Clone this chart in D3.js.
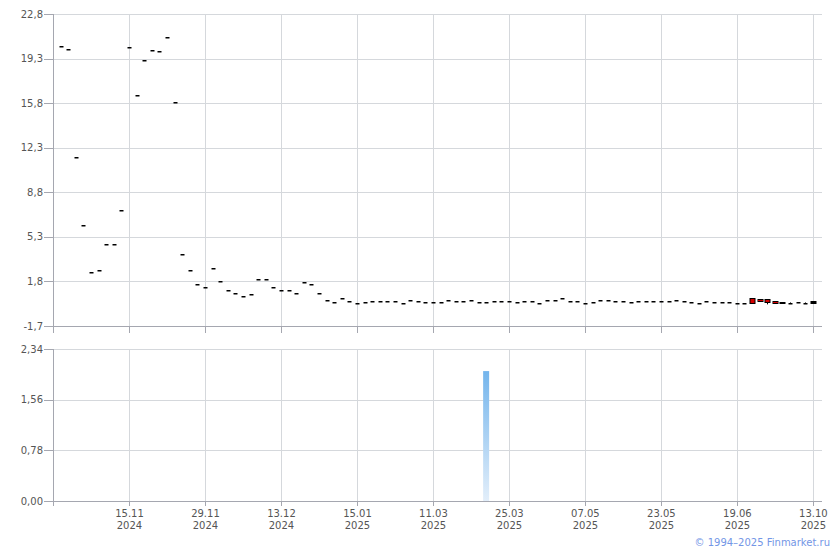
<!DOCTYPE html>
<html>
<head>
<meta charset="utf-8">
<script src="https://d3js.org/d3.v7.min.js"></script>
<style>
  body { margin: 0; background: #fff; }
  text { font-family: "DejaVu Sans", Verdana, sans-serif; }
</style>
</head>
<body>
<div id="chart"></div>
<script>
// closing price per trading day (index 0..99)
var closeVals = [
  20.2, 20.0, 11.5, 6.15, 2.45, 2.65, 4.65, 4.65, 7.3, 20.15,
  16.35, 19.1, 19.9, 19.8, 20.9, 15.8, 3.9, 2.65, 1.55, 1.25,
  2.75, 1.75, 1.05, 0.8, 0.55, 0.7, 1.9, 1.9, 1.25, 1.05,
  1.05, 0.8, 1.65, 1.5, 0.8, 0.3, 0.1, 0.4, 0.15, 0.0,
  0.1, 0.15, 0.15, 0.15, 0.15, 0.0, 0.25, 0.15, 0.1, 0.1,
  0.1, 0.25, 0.15, 0.15, 0.25, 0.1, 0.1, 0.15, 0.15, 0.15,
  0.1, 0.15, 0.15, 0.0, 0.3, 0.3, 0.4, 0.15, 0.15, 0.0,
  0.1, 0.25, 0.3, 0.15, 0.15, 0.1, 0.15, 0.15, 0.15, 0.15,
  0.15, 0.25, 0.15, 0.1, 0.0, 0.15, 0.1, 0.1, 0.1, 0.0,
  0.0, -0.03, 0.16, 0.09, 0.09, 0.05, 0.05, 0.1, 0.05, 0.17
];
// the few days where open differs from close
var bodyIdx  = [91, 92, 93, 94, 95, 99];
var bodyOpen = [0.40, 0.32, 0.32, 0.22, 0.12, 0.05];
// wicks
var wickIdx  = [93, 96, 97, 98];
var wickHigh = [0.32, 0.15, 0.18, 0.15];
var wickLow  = [0.0, 0.05, 0.1, 0.05];

// volume per day (only one non-zero)
var volIdx  = [56];
var volVals = [2.0];

var tickIdx    = [9, 19, 29, 39, 49, 59, 69, 79, 89, 99];
var tickDay    = ["15.11", "29.11", "13.12", "15.01", "11.03", "25.03", "07.05", "23.05", "19.06", "13.10"];
var tickYear   = ["2024", "2024", "2024", "2025", "2025", "2025", "2025", "2025", "2025", "2025"];
var priceTicks = [-1.7, 1.8, 5.3, 8.8, 12.3, 15.8, 19.3, 22.8];
var volTicks   = [0, 0.78, 1.56, 2.34];

var W = 840, H = 550;
var left = 53, right = 822;
var gridCol = "#d5d8dc", axisCol = "#a5a7b0", txtCol = "#555";

var loc = d3.formatLocale({decimal: ",", thousands: " ", grouping: [3], currency: ["", ""], minus: "-"});
var f1 = loc.format(".1f"), f2 = loc.format(".2f");

var svg = d3.select("#chart").append("svg")
    .attr("width", W).attr("height", H);

var x = d3.scaleLinear().domain([-1, 100.2]).range([left, right]);
var yP = d3.scaleLinear().domain([-1.7, 22.8]).range([326, 14]);
var yV = d3.scaleLinear().domain([0, 2.34]).range([501, 349]);

function pane(y, ticks, fmt, top, bottom, tickLen) {
  var g = svg.append("g");
  // horizontal grid
  g.selectAll(".hg").data(ticks).enter().append("line")
    .attr("x1", left).attr("x2", right)
    .attr("y1", function(d) { return Math.round(y(d)) + 0.5; })
    .attr("y2", function(d) { return Math.round(y(d)) + 0.5; })
    .attr("stroke", function(d, i) { return i == 0 ? axisCol : gridCol; });
  // vertical grid
  g.selectAll(".vg").data(tickIdx).enter().append("line")
    .attr("x1", function(d) { return Math.round(x(d)) + 0.5; })
    .attr("x2", function(d) { return Math.round(x(d)) + 0.5; })
    .attr("y1", top).attr("y2", bottom)
    .attr("stroke", gridCol);
  // x tick marks
  g.selectAll(".xt").data(tickIdx).enter().append("line")
    .attr("x1", function(d) { return Math.round(x(d)) + 0.5; })
    .attr("x2", function(d) { return Math.round(x(d)) + 0.5; })
    .attr("y1", bottom).attr("y2", bottom + tickLen)
    .attr("stroke", axisCol);
  // y ticks + labels
  g.selectAll(".yt").data(ticks).enter().append("line")
    .attr("x1", left - 9).attr("x2", left)
    .attr("y1", function(d) { return Math.round(y(d)) + 0.5; })
    .attr("y2", function(d) { return Math.round(y(d)) + 0.5; })
    .attr("stroke", axisCol);
  g.selectAll(".yl").data(ticks).enter().append("text")
    .attr("x", left - 10)
    .attr("y", function(d) { return y(d) + 3.5; })
    .attr("text-anchor", "end")
    .style("font-size", "10px")
    .attr("fill", txtCol)
    .text(fmt);
  // left axis
  g.append("line")
    .attr("x1", left + 0.5).attr("x2", left + 0.5)
    .attr("y1", top).attr("y2", bottom + tickLen)
    .attr("stroke", axisCol);
}

pane(yP, priceTicks, f1, 14, 326, 7);
pane(yV, volTicks, f2, 349, 501, 5);

// x labels under the volume pane
var xl = svg.append("g");
xl.selectAll(".d").data(tickIdx).enter().append("text")
  .attr("x", function(d) { return x(d) + 0.5; })
  .attr("y", 517)
  .attr("text-anchor", "middle")
  .style("font-size", "10px")
  .attr("fill", txtCol)
  .text(function(d, i) { return tickDay[i]; });
xl.selectAll(".y").data(tickIdx).enter().append("text")
  .attr("x", function(d) { return x(d) + 0.5; })
  .attr("y", 529)
  .attr("text-anchor", "middle")
  .style("font-size", "10px")
  .attr("fill", txtCol)
  .text(function(d, i) { return tickYear[i]; });

// build candles
var candles = closeVals.map(function(c, i) {
  var b = bodyIdx.indexOf(i);
  return {i: i, close: c, open: b >= 0 ? bodyOpen[b] : c};
});

// wicks
svg.selectAll(".wick").data(wickIdx).enter().append("line")
  .attr("x1", function(d) { return Math.round(x(d)) + 0.5; })
  .attr("x2", function(d) { return Math.round(x(d)) + 0.5; })
  .attr("y1", function(d, i) { return yP(wickHigh[i]); })
  .attr("y2", function(d, i) { return yP(wickLow[i]); })
  .attr("stroke", "#000");

// flat candles (open == close) -> short dash
svg.selectAll(".doji").data(candles.filter(function(d) { return d.open == d.close; }))
  .enter().append("rect")
  .attr("x", function(d) { return Math.round(x(d.i)) - 1.5; })
  .attr("y", function(d) { return Math.round(yP(d.close)) - 1; })
  .attr("width", 4)
  .attr("height", 1.5)
  .attr("fill", "#000");

// real bodies
svg.selectAll(".body").data(candles.filter(function(d) { return d.open != d.close; }))
  .enter().append("rect")
  .attr("x", function(d) { return Math.round(x(d.i)) - 2; })
  .attr("y", function(d) { return Math.round(yP(Math.max(d.open, d.close))) - 0.5; })
  .attr("width", 5)
  .attr("height", function(d) { return Math.max(1, Math.round(Math.abs(yP(d.open) - yP(d.close)))); })
  .attr("fill", function(d) { return d.open > d.close ? "#d40000" : "#000"; })
  .attr("stroke", "#000")
  .attr("stroke-width", 1);

// volume bars
var grad = svg.append("defs").append("linearGradient")
  .attr("id", "vg").attr("x1", 0).attr("y1", 0).attr("x2", 0).attr("y2", 1);
grad.append("stop").attr("offset", "0%").attr("stop-color", "#74b5ec");
grad.append("stop").attr("offset", "100%").attr("stop-color", "#e2eefa");

svg.selectAll(".vol").data(volIdx).enter().append("rect")
  .attr("x", function(d) { return x(d) - 3; })
  .attr("y", function(d, i) { return yV(volVals[i]); })
  .attr("width", 6)
  .attr("height", function(d, i) { return yV(0) - yV(volVals[i]); })
  .attr("fill", "url(#vg)");

// copyright
svg.append("text")
  .attr("x", 830).attr("y", 546)
  .attr("text-anchor", "end")
  .style("font-size", "10px")
  .attr("fill", "#7396e6")
  .text("© 1994–2025 Finmarket.ru");
</script>
</body>
</html>
